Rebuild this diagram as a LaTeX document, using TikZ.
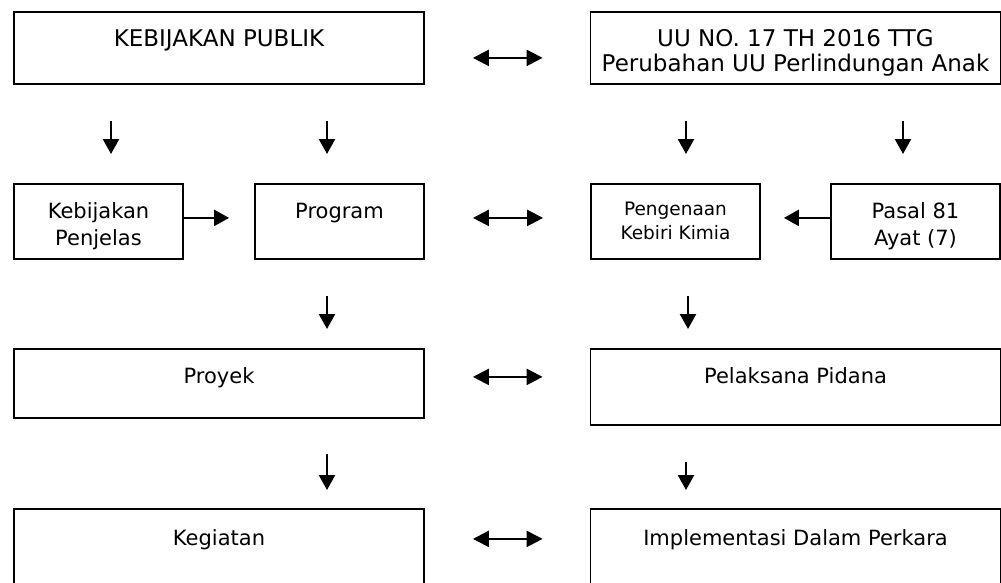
\documentclass[tikz,border=0pt]{standalone}
\usepackage{fontspec}
\setmainfont{DejaVu Sans}
\usetikzlibrary{arrows.meta}

\tikzset{
  box/.style={draw, line width=1.8pt, anchor=north, align=center, inner xsep=4pt, inner ysep=0pt,
    text height=35pt, font=\fontsize{21}{27}\selectfont},
  widebox/.style={box, minimum width=410pt},
  smallbox/.style={box, minimum width=169pt},
  toprow/.style={font=\fontsize{23}{25}\selectfont},
  arr/.style={-{Triangle[length=15pt,width=16pt]}, line width=2.3pt},
  dbl/.style={{Triangle[length=16pt,width=16pt]}-{Triangle[length=16pt,width=16pt]}, line width=2.3pt,
    shorten <=48pt, shorten >=47pt},
  downa/.style={arr, shorten <=36pt, shorten >=29pt},
  downb/.style={arr, shorten <=36pt, shorten >=19pt},
  downc/.style={arr, shorten <=35pt, shorten >=18pt},
}

\begin{document}
\begin{tikzpicture}[x=1pt,y=-1pt]
\useasboundingbox (0,0) rectangle (1001,582);
\clip (0,0) rectangle (1001,582);

\node[widebox, toprow, text depth=37pt] (pub) at (219,11) {KEBIJAKAN PUBLIK};
\node[widebox, toprow, text height=60pt, text depth=12pt] (uu) at (795.5,11) {UU NO. 17 TH 2016 TTG\\Perubahan UU Perlindungan Anak};

\node[smallbox, text height=62pt, text depth=13pt] (kp) at (98.5,183) {Kebijakan\\Penjelas};
\node[smallbox, text depth=40pt] (prog) at (339.5,183) {Program};
\node[smallbox, text height=56pt, text depth=19pt, font=\fontsize{18.5}{24}\selectfont] (kebiri) at (675.5,183) {Pengenaan\\Kebiri Kimia};
\node[smallbox, text height=62pt, text depth=13pt] (pasal) at (915.5,183) {Pasal 81\\Ayat (7)};

\node[widebox, text depth=34pt] (proyek) at (219,348) {Proyek};
\node[widebox, text depth=41pt] (pidana) at (795.5,348) {Pelaksana Pidana};

\node[widebox, text height=37pt, text depth=63pt] (kegiatan) at (219,508) {Kegiatan};
\node[widebox, text height=37pt, text depth=63pt] (perkara) at (795.5,508) {Implementasi Dalam Perkara};

\draw[dbl] ([yshift=-10pt]pub.east) -- ([yshift=-10pt]uu.west);
\draw[dbl] ([yshift=3.5pt]prog.east) -- ([yshift=3.5pt]kebiri.west);
\draw[dbl] ([yshift=6.5pt]proyek.east) -- ([yshift=6.5pt]proyek.east -| pidana.west);
\draw[dbl] ([yshift=20pt]kegiatan.east) -- ([yshift=20pt]perkara.west);

\draw[arr, shorten >=25pt] ([yshift=3.5pt]kp.east) -- ([yshift=3.5pt]prog.west);
\draw[arr, shorten >=23pt] ([yshift=3.5pt]pasal.west) -- ([yshift=3.5pt]kebiri.east);

\draw[downa] ([xshift=12.5pt]kp.north |- pub.south) -- ([xshift=12.5pt]kp.north);
\draw[downa] ([xshift=-12.5pt]prog.north |- pub.south) -- ([xshift=-12.5pt]prog.north);
\draw[downa] ([xshift=10.5pt]kebiri.north |- uu.south) -- ([xshift=10.5pt]kebiri.north);
\draw[downa] ([xshift=-12.5pt]pasal.north |- uu.south) -- ([xshift=-12.5pt]pasal.north);

\draw[downb] ([xshift=-12.5pt]prog.south) -- ([xshift=-12.5pt]prog.south |- proyek.north);
\draw[downb] ([xshift=12.5pt]kebiri.south) -- ([xshift=12.5pt]kebiri.south |- pidana.north);

\draw[downc] ([xshift=108pt]proyek.south) -- ([xshift=108pt]kegiatan.north);
\draw[downc, shorten <=36pt] ([xshift=-109.5pt]pidana.south) -- ([xshift=-109.5pt]perkara.north);
\end{tikzpicture}
\end{document}
